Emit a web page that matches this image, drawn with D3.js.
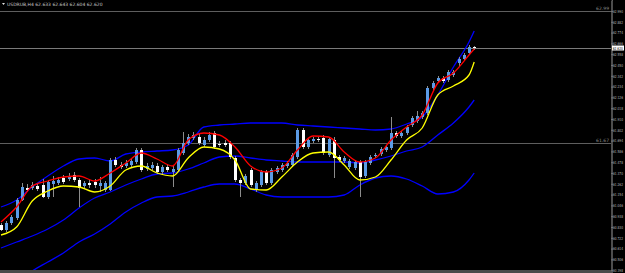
<!DOCTYPE html>
<html><head><meta charset="utf-8">
<script src="https://cdn.jsdelivr.net/npm/d3@7"></script>
<style>html,body{margin:0;padding:0;background:#000;overflow:hidden}svg{display:block}</style>
</head><body><svg id="c" width="625" height="273"></svg>
<script>
const title = "USDRUB,H4  62.633 62.643 62.604 62.620";
const opens  = [60.85,60.80,60.87,60.92,61.10,61.22,61.22,61.24,61.25,61.13,61.26,61.27,61.32,61.31,61.35,61.30,61.24,61.27,61.28,61.24,61.20,61.20,61.50,61.45,61.44,61.45,61.48,61.60,61.41,61.42,61.44,61.38,61.43,61.38,61.40,61.57,61.67,61.72,61.73,61.65,61.70,61.77,61.66,61.67,61.67,61.52,61.30,61.27,61.40,61.20,61.25,61.38,61.27,61.38,61.40,61.44,61.45,61.53,61.80,61.63,61.69,61.71,61.72,61.55,61.70,61.53,61.49,61.43,61.42,61.48,61.34,61.47,61.54,61.56,61.60,61.62,61.77,61.74,61.77,61.85,61.89,61.93,61.97,62.22,62.29,62.32,62.30,62.35,62.47,62.51,62.57,62.63];
const highs  = [60.87,60.89,60.95,61.12,61.27,61.26,61.28,61.27,61.31,61.30,61.34,61.33,61.35,61.37,61.38,61.32,61.29,61.30,61.31,61.33,61.29,61.52,61.53,61.48,61.50,61.52,61.62,61.62,61.47,61.48,61.47,61.45,61.46,61.44,61.62,61.78,61.76,61.78,61.76,61.73,61.78,61.79,61.69,61.70,61.69,61.54,61.32,61.36,61.42,61.29,61.40,61.40,61.42,61.44,61.47,61.49,61.57,61.82,61.82,61.72,61.73,61.73,61.75,61.73,61.73,61.55,61.54,61.51,61.50,61.50,61.50,61.55,61.57,61.63,61.65,61.93,61.79,61.79,61.85,61.94,61.99,61.99,62.24,62.29,62.34,62.34,62.40,62.40,62.53,62.57,62.65,62.64];
const lows   = [60.79,60.78,60.85,60.90,61.09,61.18,61.20,61.19,61.12,61.11,61.13,61.25,61.26,61.29,61.28,61.03,61.21,61.22,61.22,61.18,61.18,61.19,61.43,61.41,61.42,61.43,61.46,61.38,61.39,61.40,61.36,61.36,61.38,61.23,61.38,61.55,61.65,61.70,61.65,61.63,61.68,61.61,61.63,61.63,61.51,61.28,61.13,61.25,61.23,61.18,61.23,61.25,61.25,61.36,61.38,61.42,61.43,61.51,61.61,61.61,61.67,61.68,61.55,61.53,61.32,61.48,61.47,61.41,61.40,61.13,61.32,61.45,61.52,61.54,61.58,61.60,61.72,61.72,61.75,61.83,61.87,61.91,61.95,62.20,62.27,62.27,62.28,62.33,62.44,62.49,62.55,62.60];
const closes = [60.80,60.87,60.93,61.10,61.23,61.20,61.25,61.21,61.13,61.28,61.29,61.30,61.28,61.34,61.30,61.22,61.27,61.25,61.25,61.27,61.27,61.50,61.45,61.43,61.47,61.49,61.60,61.40,61.44,61.45,61.38,61.43,61.40,61.41,61.60,61.67,61.73,61.75,61.67,61.70,61.75,61.63,61.65,61.65,61.53,61.30,61.27,61.34,61.25,61.27,61.38,61.27,61.40,61.42,61.45,61.47,61.55,61.80,61.63,61.70,61.71,61.70,61.57,61.71,61.52,61.50,61.52,61.49,61.48,61.33,61.48,61.53,61.55,61.61,61.63,61.77,61.74,61.77,61.83,61.92,61.94,61.97,62.22,62.27,62.32,62.29,62.38,62.38,62.51,62.55,62.63,62.62];

const lineIdx = [0,3,6,9,12,15,18,21,24,27,30,33,36,39,42,45,48,51,54,57,60,63,66,69,72,75,78,81,84,87,90,91];
const fastMA  = [60.88,61.03,61.24,61.29,61.33,61.34,61.29,61.37,61.47,61.57,61.51,61.44,61.70,61.77,61.75,61.63,61.44,61.38,61.42,61.60,61.74,61.73,61.58,61.48,61.52,61.70,61.83,61.95,62.27,62.37,62.55,62.61];
const slowMA  = [60.75,60.83,61.09,61.19,61.24,61.23,61.18,61.24,61.40,61.44,61.37,61.34,61.52,61.63,61.61,61.50,61.21,61.20,61.33,61.48,61.57,61.58,61.45,61.30,61.33,61.50,61.70,61.82,62.15,62.24,62.35,62.48];
const bandUpper = [61.03,61.10,61.23,61.34,61.44,61.51,61.52,61.49,61.56,61.58,61.59,61.60,61.65,61.83,61.85,61.86,61.87,61.87,61.87,61.85,61.84,61.83,61.82,61.81,61.80,61.81,61.86,61.93,62.15,62.43,62.68,62.79];
const bandMid   = [60.62,60.68,60.74,60.81,60.90,61.02,61.12,61.18,61.25,61.31,61.36,61.37,61.41,61.47,61.53,61.54,61.52,61.50,61.49,61.48,61.48,61.48,61.48,61.47,61.50,61.54,61.59,61.63,61.75,61.87,62.03,62.10];
const bandLower = [60.20,60.28,60.39,60.48,60.57,60.68,60.76,60.86,60.98,61.07,61.13,61.14,61.18,61.23,61.26,61.26,61.21,61.15,61.13,61.13,61.13,61.13,61.15,61.25,61.32,61.34,61.31,61.24,61.16,61.18,61.30,61.37];

const tickValues = [62.990,62.882,62.774,62.666,62.558,62.450,62.342,62.234,62.126,62.018,61.910,61.802,61.694,61.586,61.478,61.370,61.262,61.154,61.046,60.938,60.830,60.722,60.614,60.506,60.398];
const levels = [62.99, 61.67];
const levelLabels = ["62.99", "61.67"];
const lastPrice = 62.620;

const W = 625, H = 273, axisX = 611;
const svg = d3.select("#c");
svg.append("rect").attr("width",W).attr("height",H).attr("fill","#000");

const x = d3.scaleLinear().domain([0, opens.length-1]).range([1, 474.2]);
const y = d3.scaleLinear().domain([63.10, 60.37]).range([0, 273]);

const plot = svg.append("g");
plot.append("clipPath").attr("id","clip").append("rect").attr("x",0).attr("y",0).attr("width",axisX).attr("height",270);
const gp = plot.append("g").attr("clip-path","url(#clip)");

gp.selectAll("line.lvl").data(levels).join("line")
  .attr("x1",0).attr("x2",axisX).attr("y1",d=>Math.round(y(d))+0.5).attr("y2",d=>Math.round(y(d))+0.5)
  .attr("stroke","#5e5e5e").attr("stroke-width",1);
svg.selectAll("text.lvl").data(levels).join("text")
  .attr("x",axisX-2).attr("y",d=>y(d)-1).attr("text-anchor","end")
  .attr("fill","#8a8a8a").attr("font-family","DejaVu Sans").attr("font-size",4.5)
  .text((d,i)=>levelLabels[i]);
gp.append("line").attr("x1",0).attr("x2",axisX)
  .attr("y1",Math.round(y(lastPrice))+0.5).attr("y2",Math.round(y(lastPrice))+0.5)
  .attr("stroke","#7a7a7a").attr("stroke-width",1);

const mk = vals => d3.line().x((d,i)=>x(lineIdx[i])).y(d=>y(d)).curve(d3.curveMonotoneX)(vals);
[bandUpper, bandMid, bandLower].forEach(v=>{
  gp.append("path").attr("d",mk(v)).attr("fill","none").attr("stroke","#0000ff").attr("stroke-width",1.3);
});

const idx = d3.range(opens.length);
gp.selectAll("line.wick").data(idx).join("line")
  .attr("x1",i=>Math.round(x(i))+0.5).attr("x2",i=>Math.round(x(i))+0.5)
  .attr("y1",i=>y(highs[i])).attr("y2",i=>y(lows[i]))
  .attr("stroke","#8c8c8c").attr("stroke-width",1);
gp.selectAll("rect.body").data(idx).join("rect")
  .attr("x",i=>Math.round(x(i))-1).attr("width",3)
  .attr("y",i=>y(Math.max(opens[i],closes[i])))
  .attr("height",i=>Math.max(1,Math.abs(y(opens[i])-y(closes[i]))))
  .attr("fill",i=>closes[i]>=opens[i]?"#5b9be6":"#ffffff");

gp.append("path").attr("d",mk(slowMA)).attr("fill","none").attr("stroke","#ffff00").attr("stroke-width",1.3);
gp.append("path").attr("d",mk(fastMA)).attr("fill","none").attr("stroke","#ff0000").attr("stroke-width",1.3);

const axis = d3.axisRight(y).tickValues(tickValues).tickSize(1).tickFormat(d3.format(".3f"));
const ga = svg.append("g").attr("transform",`translate(${axisX+0.5},0)`).call(axis);
ga.select(".domain").attr("stroke","#9a9a9a");
ga.selectAll(".tick line").attr("stroke","#9a9a9a");
ga.selectAll(".tick text").attr("fill","#b8b8b8").attr("font-family","DejaVu Sans Condensed, DejaVu Sans").attr("font-size",4)
  .attr("x",1.5).attr("textLength",10).attr("lengthAdjust","spacingAndGlyphs");

const ly = y(lastPrice);
svg.append("rect").attr("x",axisX+1).attr("y",ly-2.5).attr("width",12).attr("height",5).attr("fill","#ffffff");
svg.append("text").attr("x",axisX+1.8).attr("y",ly+1.6).attr("fill","#000").attr("font-family","DejaVu Sans Condensed, DejaVu Sans").attr("font-size",4)
  .attr("textLength",10).attr("lengthAdjust","spacingAndGlyphs").text(lastPrice.toFixed(3));

svg.append("rect").attr("x",0).attr("y",270).attr("width",axisX).attr("height",3).attr("fill","#4a4a4a");

svg.append("path").attr("d","M2,3 L5,3 L3.5,5 Z").attr("fill","#ddd");
svg.append("text").attr("x",7).attr("y",6).attr("fill","#c8c8c8").attr("font-family","DejaVu Sans").attr("font-size",4.5).text(title);
</script></body></html>
